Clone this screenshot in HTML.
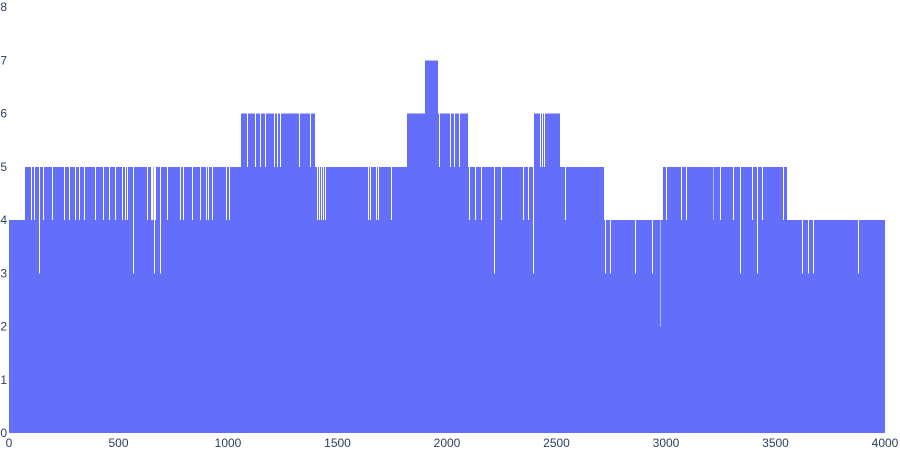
<!DOCTYPE html>
<html><head><meta charset="utf-8"><style>
body{margin:0;background:#fff;}
svg text{font-family:"Liberation Sans",sans-serif;font-size:12px;fill:#2a3f5f;}
</style></head><body>
<svg id="chart" width="900" height="450" xmlns="http://www.w3.org/2000/svg">
<g id="bars"></g>
<g id="yticks"></g>
<g id="xticks"></g>
</svg>
<script>
// base level segments: start x, end x, value
const segStart = [0, 73, 1060, 1383, 1397, 1817, 1900, 1959, 2096, 2397, 2516, 2717, 2986, 3552];
const segEnd   = [73, 1060, 1383, 1397, 1817, 1900, 1959, 2096, 2397, 2516, 2717, 2986, 3552, 4000];
const segVal   = [4, 5, 6, 6, 5, 6, 7, 6, 5, 6, 5, 4, 5, 4];
// narrow dips: x position and value
const dipX = [100,114,137,155,196,251,274,301,320,342,393,429,457,484,516,530,539,566,630,648,652,656,662,667,689,721,781,795,836,872,900,909,927,991,1005,
  1087,1123,1146,1169,1210,1224,1237,1324,1374,
  1406,1415,1425,1434,1443,1639,1648,1676,1685,1744,
  1963,2014,2032,2055,
  2100,2128,2155,2215,2247,2347,2370,2393,2539,2425,2434,2443,
  2721,2744,2858,2936,2972,
  3000,3068,3091,3214,3246,3306,3338,3393,3415,3438,3534,
  3621,3648,3671,3877];
const dipV = [4,4,3,4,4,4,4,4,4,4,4,4,4,4,4,4,4,3,4,4,4,4,3,4,3,4,4,4,4,4,4,4,4,4,4,
  5,5,5,5,5,5,5,5,5,
  4,4,4,4,4,4,4,4,4,4,
  5,5,5,5,
  4,4,4,3,4,4,4,3,4,5,5,5,
  3,3,3,3,2,
  4,4,4,4,4,4,3,4,3,4,4,
  3,3,3,3];
const yTicks = [0,1,2,3,4,5,6,7,8];
const xTicks = [0,500,1000,1500,2000,2500,3000,3500,4000];

const X0=9, X1=885, Y0=433, Y1=7;
const xs = v => X0 + (v/4000)*(X1-X0);
const ys = v => Y0 - (v/8)*(Y0-Y1);
const NS="http://www.w3.org/2000/svg";

// per-unit values
const vals = new Array(4000).fill(0);
for (let i=0;i<segStart.length;i++) for (let x=segStart[i];x<segEnd[i];x++) vals[x]=segVal[i];
for (let i=0;i<dipX.length;i++) for (let x=dipX[i];x<dipX[i]+4 && x<4000;x++) vals[x]=dipV[i];

const g=document.getElementById('bars');
let s=0;
for (let x=1;x<=4000;x++){
  if (x===4000 || vals[x]!==vals[s]){
    const r=document.createElementNS(NS,'rect');
    
    
    r.setAttribute('x',xs(s)); r.setAttribute('width',xs(x)-xs(s));
    r.setAttribute('y',ys(vals[s])); r.setAttribute('height',Y0-ys(vals[s]));
    r.setAttribute('fill','#636efa'); r.setAttribute('shape-rendering','crispEdges');
    g.appendChild(r); s=x;
  }
}
const yg=document.getElementById('yticks');
yTicks.forEach(t=>{
  const e=document.createElementNS(NS,'text');
  
  
  e.setAttribute('x',7); e.setAttribute('y',ys(t)+4); e.setAttribute('text-anchor','end');
  e.textContent=t; yg.appendChild(e);
});
const xg=document.getElementById('xticks');
xTicks.forEach(t=>{
  const e=document.createElementNS(NS,'text');
  
  
  e.setAttribute('x',xs(t)); e.setAttribute('y',447); e.setAttribute('text-anchor','middle');
  e.textContent=t; xg.appendChild(e);
});
</script>
</body></html>
